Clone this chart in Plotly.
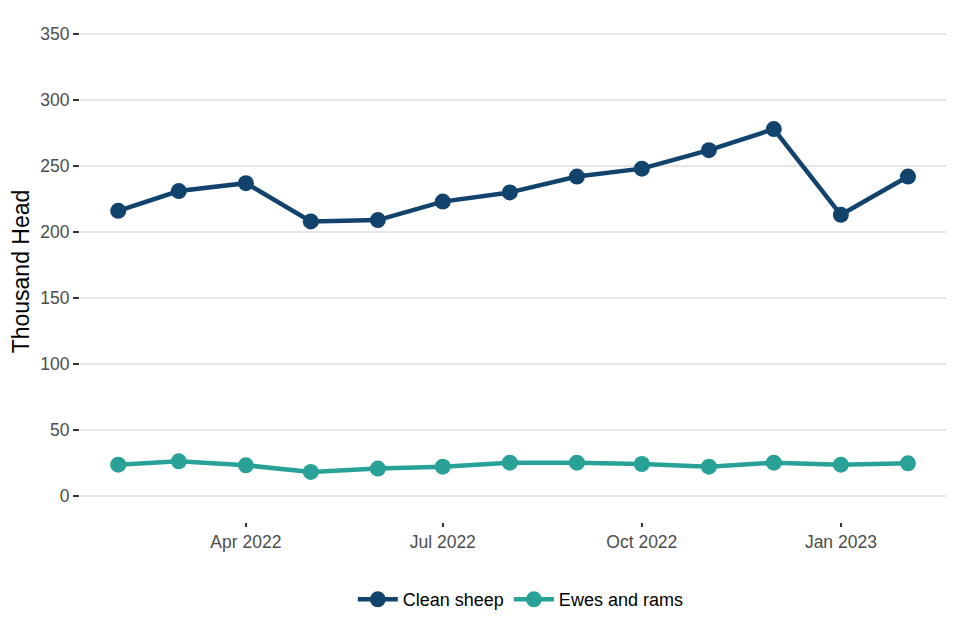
import plotly.graph_objects as go

months = ["2022-02-01", "2022-03-01", "2022-04-01", "2022-05-01", "2022-06-01", "2022-07-01",
          "2022-08-01", "2022-09-01", "2022-10-01", "2022-11-01", "2022-12-01", "2023-01-01", "2023-02-01"]
clean_sheep = [216, 231, 237, 208, 209, 223, 230, 242, 248, 262, 278, 213, 242]
ewes_rams = [23.5, 26, 23, 18, 20.5, 22, 25, 25, 24, 22, 25, 23.5, 24.5]
y_ticks = [0, 50, 100, 150, 200, 250, 300, 350]
x_ticks = ["2022-04-01", "2022-07-01", "2022-10-01", "2023-01-01"]
x_tick_labels = ["Apr 2022", "Jul 2022", "Oct 2022", "Jan 2023"]

fig = go.Figure()
fig.add_trace(go.Scatter(x=months, y=clean_sheep, name="Clean sheep", mode="lines+markers",
                         line=dict(color="#12436D", width=4.5), marker=dict(size=16, color="#12436D")))
fig.add_trace(go.Scatter(x=months, y=ewes_rams, name="Ewes and rams", mode="lines+markers",
                         line=dict(color="#28A197", width=4.5), marker=dict(size=16, color="#28A197")))

fig.update_layout(
    width=960, height=640,
    margin=dict(l=72, r=22, t=13, b=126, autoexpand=False),
    plot_bgcolor="white", paper_bgcolor="white",
    font=dict(family="Liberation Sans, Arial, sans-serif", size=17, color="#4d4d4d"),
    showlegend=True,
    legend=dict(orientation="h", x=0.509, xanchor="center", y=-0.155, yanchor="middle",
                font=dict(size=18, color="black"), itemwidth=40),
    xaxis=dict(type="date", range=["2022-01-14 08:00", "2023-02-18 14:00"],
               tickvals=x_ticks, ticktext=x_tick_labels, showgrid=False, zeroline=False,
               ticks="outside", ticklen=4, tickcolor="#333333", tickwidth=2, showline=False,
               tickfont=dict(size=17.5, color="#4d4d4d")),
    yaxis=dict(range=[-20, 360], tickvals=y_ticks, showgrid=True, gridcolor="#e5e5e5", gridwidth=2,
               zeroline=False, ticks="outside", ticklen=6, tickcolor="#333333", tickwidth=2,
               showline=False, tickfont=dict(size=17.5, color="#4d4d4d"),
               title=dict(text="Thousand Head", font=dict(size=23, color="black"), standoff=6)),
)

fig.write_html("out.html")
